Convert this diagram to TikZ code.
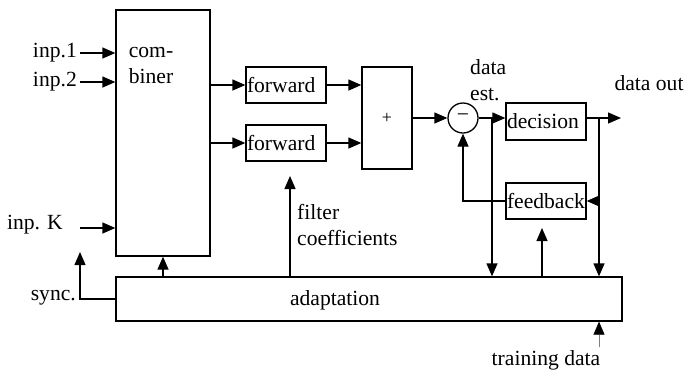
\documentclass[tikz,border=0pt]{standalone}
\usepackage{fontspec}
\setmainfont{Liberation Serif}
\usetikzlibrary{positioning}
\usetikzlibrary{arrows.meta}
\usetikzlibrary{calc}

\tikzset{
  blk/.style={draw, line width=1.3pt, inner sep=0pt, minimum width=80pt, minimum height=36pt, font=\fontsize{21.6}{26}\selectfont},
  lbox/.style={blk, inner xsep=1pt, text width=78pt, align=left},
  txt/.style={inner sep=0pt, font=\fontsize{21.6}{26}\selectfont},
  sig/.style={line width=1.3pt, -{Triangle[length=13pt,width=11pt]}},
}

\begin{document}
\begin{tikzpicture}[x=1pt,y=-1pt]
\useasboundingbox (0,0) rectangle (685,373);
% blocks
\node[blk, minimum width=94pt, minimum height=246pt] (comb) at (163,133) {};
\node[txt, align=left] (combtxt) at (151,66) {com-\\biner};
\node[lbox] (fwdA) at (286,85) {forward};
\node[lbox] (fwdB) at (286,143) {forward};
\node[blk, minimum width=50pt, minimum height=102pt, font=\fontsize{18}{20}\selectfont] (sum) at (387,118) {+};
\node[draw, circle, line width=1.3pt, minimum size=30pt, inner sep=0pt, font=\fontsize{21.6}{26}\selectfont] (sub) at (463,118) {−};
\node[lbox, minimum height=37pt] (dec) at (546,121.5) {decision};
\node[lbox] (fb) at (546,201) {feedback};
\node[blk, minimum width=506pt, minimum height=44pt] (adapt) at (369,299) {};
\node[txt] (adtxt) at (335,300) {adaptation};
% labels
\node[txt, anchor=east] (in1) at (77,53) {inp.1};
\node[txt, anchor=east] (in2) at (77,82) {inp.2};
\node[txt, anchor=east] (inK) at (63,225) {inp. K};
\node[txt, anchor=east] (sync) at (76,298) {sync.};
\node[txt, align=left, anchor=west] (fc) at (297,225) {filter\\coefficients};
\node[txt, align=left, anchor=west] (dest) at (470,80) {data\\est.};
\node[txt] (dout) at (649,83) {data out};
\node[txt] (td) at (546,360) {training data};
\coordinate (kin) at (80,228);
\coordinate (syncup) at (80,252);
\coordinate (coef) at (290,176);
\coordinate (fbin) at (542,228);
\coordinate (out) at (621,118);
\coordinate (br1) at (492,118);
\coordinate (br2) at (599,118);
\coordinate (train) at (599,347);
% connectors
\draw[sig] ([xshift=3pt]in1.east) -- (in1.east -| comb.west);
\draw[sig] ([xshift=3pt]in2.east) -- (in2.east -| comb.west);
\draw[sig] (kin) -- (kin -| comb.west);
\draw[sig] (fwdA.west -| comb.east) -- (fwdA.west);
\draw[sig] (fwdB.west -| comb.east) -- (fwdB.west);
\draw[sig] (fwdA.east) -- (fwdA.east -| sum.west);
\draw[sig] (fwdB.east) -- (fwdB.east -| sum.west);
\draw[sig] (sum.east |- sub.west) -- (sub.west);
\draw[sig] (sub.east) -- (sub.east -| dec.west);
\draw[sig] (sub.east -| dec.east) -- (out);
\draw[sig] (br1) -- (br1 |- adapt.north);
\draw[sig] (br2) -- (br2 |- adapt.north);
\draw[sig] (br2 |- fb.east) -- (fb.east);
\draw[sig] (fb.west) -| (sub.south);
\draw[sig] (adapt.north -| comb.south) -- (comb.south);
\draw[sig] (adapt.north -| coef) -- (coef);
\draw[sig] (adapt.north -| fbin) -- (fbin);
\draw[sig] (adapt.west) -| (syncup);
\draw[line width=0.6pt, gray, -{Triangle[length=13pt,width=11pt,color=black,fill=black]}] (train) -- (train |- adapt.south);
\end{tikzpicture}
\end{document}
